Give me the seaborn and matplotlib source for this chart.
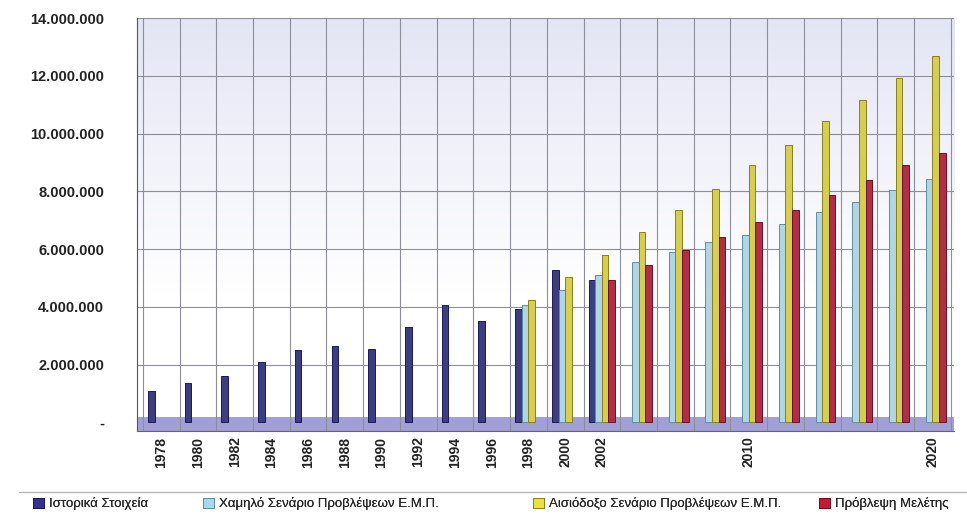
import numpy as np
import pandas as pd
import matplotlib
matplotlib.use("Agg")
import matplotlib.pyplot as plt
from matplotlib.colors import LinearSegmentedColormap
from matplotlib.patches import Patch
import seaborn as sns

# Passenger traffic: history and forecast scenarios, every two years
years = [1978, 1980, 1982, 1984, 1986, 1988, 1990, 1992, 1994, 1996, 1998, 2000,
         2002, 2004, 2006, 2008, 2010, 2012, 2014, 2016, 2018, 2020]
tick_labels = ["1978", "1980", "1982", "1984", "1986", "1988", "1990", "1992",
               "1994", "1996", "1998", "2000", "2002", "", "", "", "2010",
               "", "", "", "", "2020"]

historical = [1.08e6, 1.38e6, 1.62e6, 2.10e6, 2.50e6, 2.65e6, 2.55e6, 3.30e6,
              4.07e6, 3.50e6, 3.93e6, 5.27e6, 4.93e6,
              None, None, None, None, None, None, None, None, None]
low_scenario = [None] * 10 + [4.07e6, 4.60e6, 5.10e6, 5.55e6, 5.90e6, 6.24e6,
                              6.48e6, 6.86e6, 7.28e6, 7.62e6, 8.03e6, 8.41e6]
optimistic = [None] * 10 + [4.24e6, 5.03e6, 5.80e6, 6.60e6, 7.34e6, 8.07e6,
                            8.90e6, 9.62e6, 10.45e6, 11.17e6, 11.93e6, 12.69e6]
study_forecast = [None] * 12 + [4.93e6, 5.45e6, 5.97e6, 6.41e6, 6.93e6, 7.34e6,
                                7.86e6, 8.38e6, 8.90e6, 9.34e6]

series_names = ["Ιστορικά Στοιχεία",
                "Χαμηλό Σενάριο Προβλέψεων Ε.Μ.Π.",
                "Αισιόδοξο Σενάριο Προβλέψεων Ε.Μ.Π.",
                "Πρόβλεψη Μελέτης"]
series_values = [historical, low_scenario, optimistic, study_forecast]
colors = ["#32338a", "#a8d8ec", "#ece23c", "#c41a3a"]
edges = ["#1a1a55", "#5d8ea6", "#8a7f1c", "#6e0f20"]

rows = []
for name, vals in zip(series_names, series_values):
    for yr, v in zip(years, vals):
        if v is not None:
            rows.append({"year": str(yr), "series": name, "value": v})
df = pd.DataFrame(rows)

sns.set_theme(style="white")
plt.rcParams["font.family"] = ["Liberation Sans", "DejaVu Sans"]

fig = plt.figure(figsize=(9.67, 5.15), dpi=100)
ax = fig.add_axes([0.142, 0.163, 0.845, 0.802])

sns.barplot(data=df, x="year", y="value", hue="series",
            order=[str(y) for y in years], hue_order=series_names,
            palette=colors, width=0.72, dodge=True, ax=ax, zorder=3,
            legend=False)
for patches, ec in zip(ax.containers, edges):
    for p in patches:
        p.set_edgecolor(ec)
        p.set_linewidth(0.7)

ax.set_xlim(-0.65, len(years) - 0.4)
ax.set_ylim(-0.3e6, 14e6)

# back-wall tint fading to white
wall = LinearSegmentedColormap.from_list(
    "wall", ["#ffffff", "#ffffff", "#f1f2fa", "#e3e5f4"])
grad = np.linspace(0, 1, 256).reshape(-1, 1)
ax.imshow(grad, cmap=wall, aspect="auto", origin="lower",
          extent=[0, 1, 0, 1], transform=ax.transAxes, zorder=0)

# floor
ax.axhspan(-0.3e6, 0.2e6, color="#a0a0d6", zorder=1, lw=0)

# grid
for yv in np.arange(2e6, 14.01e6, 2e6):
    ax.axhline(yv, color="#8e8e98", lw=0.8, zorder=1.5)
for xv in np.arange(-0.5, len(years), 1.0):
    ax.axvline(xv, color="#8e8e98", lw=0.8, zorder=1.5)

yt = np.arange(0, 14.01e6, 2e6)
ax.set_yticks(yt)
ax.set_yticklabels(["-"] + [f"{int(v):,}".replace(",", ".") for v in yt[1:]],
                   fontsize=10.5, fontweight="bold", color="#222222")
ax.set_xticks(range(len(years)))
ax.set_xticklabels(tick_labels, rotation=90, fontsize=10, fontweight="bold",
                   color="#222222")
ax.tick_params(axis="y", length=3, color="#555555", pad=21)
ax.tick_params(axis="x", length=0, pad=4)
ax.set_xlabel("")
ax.set_ylabel("")

for s in ["top", "right"]:
    ax.spines[s].set_visible(False)
ax.spines["left"].set_color("#555555")
ax.spines["left"].set_linewidth(0.8)
ax.spines["bottom"].set_color("#666666")
ax.spines["bottom"].set_linewidth(0.8)

# legend strip along the bottom, one entry per series
fig.add_artist(plt.Line2D([0.02, 1.0], [1 - 492 / 515, 1 - 492 / 515],
                          color="#b0b0b0", lw=0.9))
legend_x = [24 / 967, 194 / 967, 524 / 967, 810 / 967]
for name, c, e, lx in zip(series_names, colors, edges, legend_x):
    lg = fig.legend([Patch(facecolor=c, edgecolor=e, lw=0.7)], [name],
                    loc="center left", bbox_to_anchor=(lx, 1 - 504 / 515),
                    frameon=False, fontsize=9.5, handlelength=0.8,
                    handleheight=0.8, handletextpad=0.4, borderpad=0.2)
    fig.add_artist(lg)

fig.savefig("out.png", dpi=100)
